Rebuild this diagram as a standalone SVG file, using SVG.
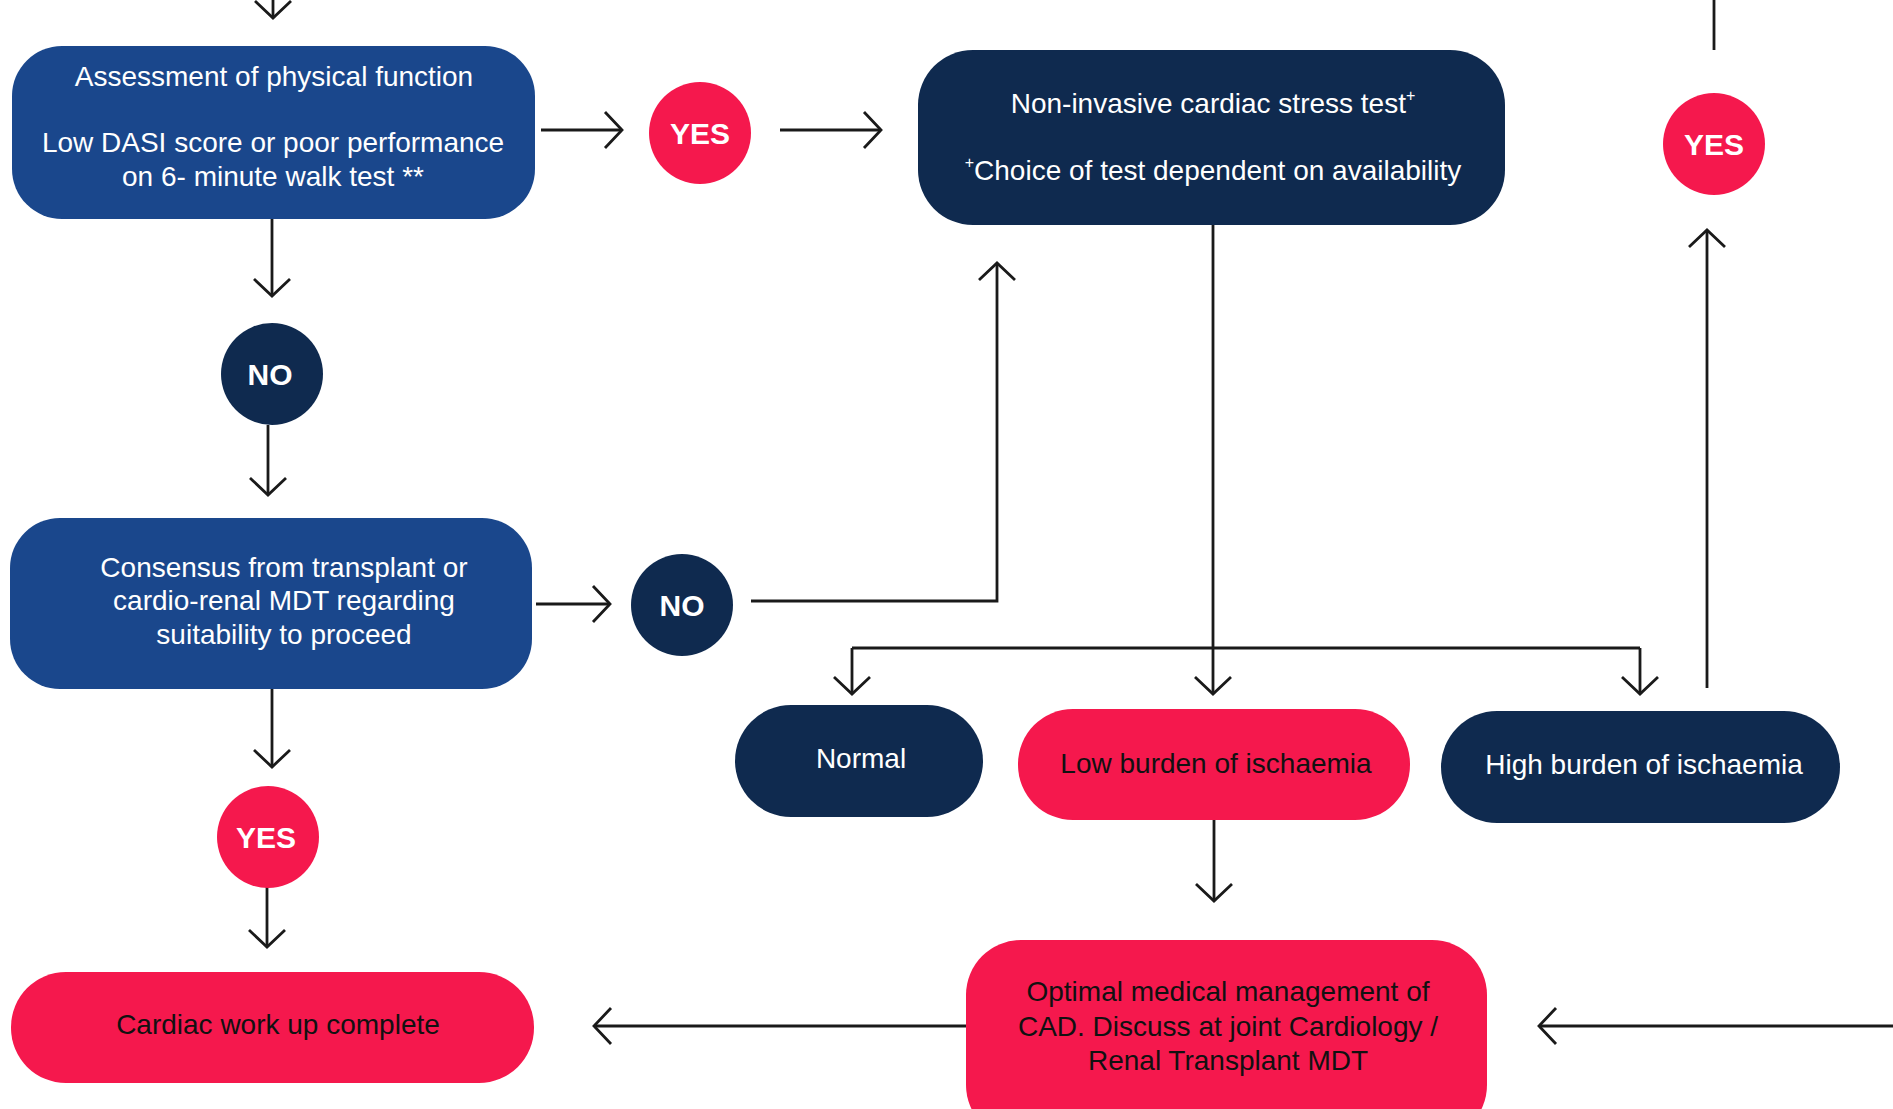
<svg xmlns="http://www.w3.org/2000/svg" width="1893" height="1109" viewBox="0 0 1893 1109">
<style>
.blue{fill:#1a478c}
.navy{fill:#0f2a4f}
.red{fill:#f5184d}
.t{font-family:"Liberation Sans",Arial,sans-serif;font-size:28px;text-anchor:middle}
.w{fill:#ffffff}
.k{fill:#111111}
.b{font-family:"Liberation Sans",Arial,sans-serif;font-size:30px;font-weight:bold;text-anchor:middle;fill:#ffffff}
.c{fill:none;stroke:#1a1a1a;stroke-width:2.8}
</style>
<defs>
<marker id="ah" markerUnits="userSpaceOnUse" markerWidth="44" markerHeight="44" viewBox="-22 -22 44 44" refX="0" refY="0" orient="auto">
<path d="M-17,-18 L0,0 L-17,18" fill="none" stroke="#1a1a1a" stroke-width="2.8"/>
</marker>
</defs>
<rect width="1893" height="1109" fill="#ffffff"/>
<g id="connectors">
<line class="c" x1="273" y1="0" x2="273" y2="18" marker-end="url(#ah)"/>
<line class="c" x1="541" y1="130" x2="622" y2="130" marker-end="url(#ah)"/>
<line class="c" x1="780" y1="130" x2="881" y2="130" marker-end="url(#ah)"/>
<line class="c" x1="1714" y1="0" x2="1714" y2="50"/>
<line class="c" x1="1707" y1="688" x2="1707" y2="230" marker-end="url(#ah)"/>
<line class="c" x1="272" y1="219" x2="272" y2="296" marker-end="url(#ah)"/>
<line class="c" x1="268" y1="425" x2="268" y2="495" marker-end="url(#ah)"/>
<line class="c" x1="536" y1="604" x2="610" y2="604" marker-end="url(#ah)"/>
<polyline class="c" points="751,601 997,601 997,263" marker-end="url(#ah)"/>
<line class="c" x1="1213" y1="225" x2="1213" y2="694" marker-end="url(#ah)"/>
<line class="c" x1="852" y1="648" x2="852" y2="694" marker-end="url(#ah)"/>
<line class="c" x1="852" y1="648" x2="1640" y2="648"/>
<line class="c" x1="1640" y1="648" x2="1640" y2="694" marker-end="url(#ah)"/>
<line class="c" x1="1214" y1="820" x2="1214" y2="901" marker-end="url(#ah)"/>
<line class="c" x1="966" y1="1026" x2="594" y2="1026" marker-end="url(#ah)"/>
<line class="c" x1="1893" y1="1026" x2="1539" y2="1026" marker-end="url(#ah)"/>
<line class="c" x1="272" y1="689" x2="272" y2="767" marker-end="url(#ah)"/>
<line class="c" x1="267" y1="887" x2="267" y2="947" marker-end="url(#ah)"/>
</g>
<g id="assessment">
<rect class="blue" x="12" y="46" width="523" height="173" rx="50"/>
<text class="t w" x="274" y="86">Assessment of physical function</text>
<text class="t w" x="273" y="152">Low DASI score or poor performance</text>
<text class="t w" x="273" y="186">on 6- minute walk test **</text>
</g>
<g id="yes1">
<circle class="red" cx="700" cy="133" r="51"/>
<text class="b" x="700" y="144">YES</text>
</g>
<g id="stress-test">
<rect class="navy" x="918" y="50" width="587" height="175" rx="55"/>
<text class="t w" x="1213" y="113">Non-invasive cardiac stress test<tspan font-size="16" dy="-12">+</tspan></text>
<text class="t w" x="1213" y="180"><tspan font-size="16" dy="-12">+</tspan><tspan dy="12">Choice of test dependent on availability</tspan></text>
</g>
<g id="yes2">
<circle class="red" cx="1714" cy="144" r="51"/>
<text class="b" x="1714" y="155">YES</text>
</g>
<g id="no1">
<circle class="navy" cx="272" cy="374" r="51"/>
<text class="b" x="270" y="385">NO</text>
</g>
<g id="consensus">
<rect class="blue" x="10" y="518" width="522" height="171" rx="50"/>
<text class="t w" x="284" y="577">Consensus from transplant or</text>
<text class="t w" x="284" y="610">cardio-renal MDT regarding</text>
<text class="t w" x="284" y="644">suitability to proceed</text>
</g>
<g id="no2">
<circle class="navy" cx="682" cy="605" r="51"/>
<text class="b" x="682" y="616">NO</text>
</g>
<g id="normal">
<rect class="navy" x="735" y="705" width="248" height="112" rx="56"/>
<text class="t w" x="861" y="768">Normal</text>
</g>
<g id="low-burden">
<rect class="red" x="1018" y="709" width="392" height="111" rx="55"/>
<text class="t k" x="1216" y="773">Low burden of ischaemia</text>
</g>
<g id="high-burden">
<rect class="navy" x="1441" y="711" width="399" height="112" rx="56"/>
<text class="t w" x="1644" y="774">High burden of ischaemia</text>
</g>
<g id="yes3">
<circle class="red" cx="268" cy="837" r="51"/>
<text class="b" x="266" y="848">YES</text>
</g>
<g id="optimal">
<rect class="red" x="966" y="940" width="521" height="200" rx="55"/>
<text class="t k" x="1228" y="1001">Optimal medical management of</text>
<text class="t k" x="1228" y="1036">CAD. Discuss at joint Cardiology /</text>
<text class="t k" x="1228" y="1070">Renal Transplant MDT</text>
</g>
<g id="complete">
<rect class="red" x="11" y="972" width="523" height="111" rx="55"/>
<text class="t k" x="278" y="1034">Cardiac work up complete</text>
</g>
</svg>
